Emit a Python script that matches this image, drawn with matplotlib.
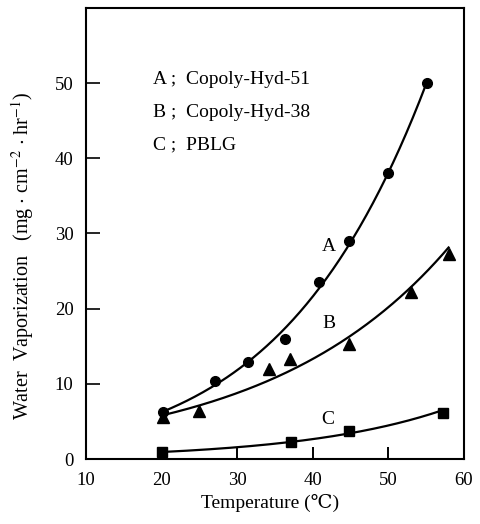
import matplotlib
matplotlib.use("Agg")
import matplotlib.pyplot as plt
import numpy as np

# values
temp_a = [20.2, 27.1, 31.4, 36.4, 40.9, 44.8, 50.0, 55.2]
vap_a = [6.2, 10.4, 12.9, 16.0, 23.6, 29.0, 38.1, 50.0]

temp_b = [20.2, 24.9, 34.2, 37.0, 44.8, 53.0, 58.0]
vap_b = [5.6, 6.4, 12.0, 13.3, 15.3, 22.2, 27.3]

temp_c = [20.0, 37.1, 44.8, 57.2]
vap_c = [0.9, 2.3, 3.7, 6.1]

legend_lines = ["A ;  Copoly-Hyd-51", "B ;  Copoly-Hyd-38", "C ;  PBLG"]
curve_labels = ["A", "B", "C"]

x_ticks = [10, 20, 30, 40, 50, 60]
y_ticks = [0, 10, 20, 30, 40, 50]

plt.rcParams["font.family"] = ["Liberation Serif", "DejaVu Serif", "Noto Sans CJK JP"]
plt.rcParams["mathtext.fontset"] = "stix"


def fit_curve(x, y, deg, x_end):
    coef = np.polyfit(x, np.log(y), deg)
    xs = np.linspace(x[0], x_end, 200)
    return xs, np.exp(np.polyval(coef, xs))


fig = plt.figure(figsize=(4.81, 5.24), dpi=100)
ax = fig.add_axes([0.179, 0.124, 0.785, 0.861])

series = [
    (temp_a, vap_a, "o", 7, 2),
    (temp_b, vap_b, "^", 8.5, 1),
    (temp_c, vap_c, "s", 6.5, 1),
]
for x, y, marker, size, deg in series:
    xs, ys = fit_curve(x, y, deg, x[-1])
    ax.plot(xs, ys, color="black", linewidth=1.6)
    ax.plot(x, y, linestyle="none", marker=marker, markersize=size, color="black")

label_pos = [(42.1, 28.2), (42.1, 18.0), (42.0, 5.3)]
for txt, (lx, ly) in zip(curve_labels, label_pos):
    ax.text(lx, ly, txt, fontsize=14, ha="center", va="center")

for i, line in enumerate(legend_lines):
    ax.text(18.8, 50.5 - i * 4.35, line, fontsize=14, ha="left", va="center")

ax.set_xlim(10, 60)
ax.set_ylim(0, 60)
ax.set_xticks(x_ticks)
ax.set_yticks(y_ticks)
ax.tick_params(axis="y", direction="in", length=10, width=1.2, pad=9, labelsize=13.5)
ax.tick_params(axis="x", direction="in", length=8.5, width=1.4, pad=9, labelsize=13.5)
for s in ax.spines.values():
    s.set_linewidth(1.5)

ax.set_xlabel("Temperature (\u2103)", fontsize=14)
ax.xaxis.set_label_coords(0.487, -0.078)
ax.set_ylabel(r"Water  Vaporization   (mg $\cdot$ cm$^{-2}$ $\cdot$ hr$^{-1}$)", fontsize=14.5)
ax.yaxis.set_label_coords(-0.132, 0.45)

fig.savefig("out.png", dpi=100)
